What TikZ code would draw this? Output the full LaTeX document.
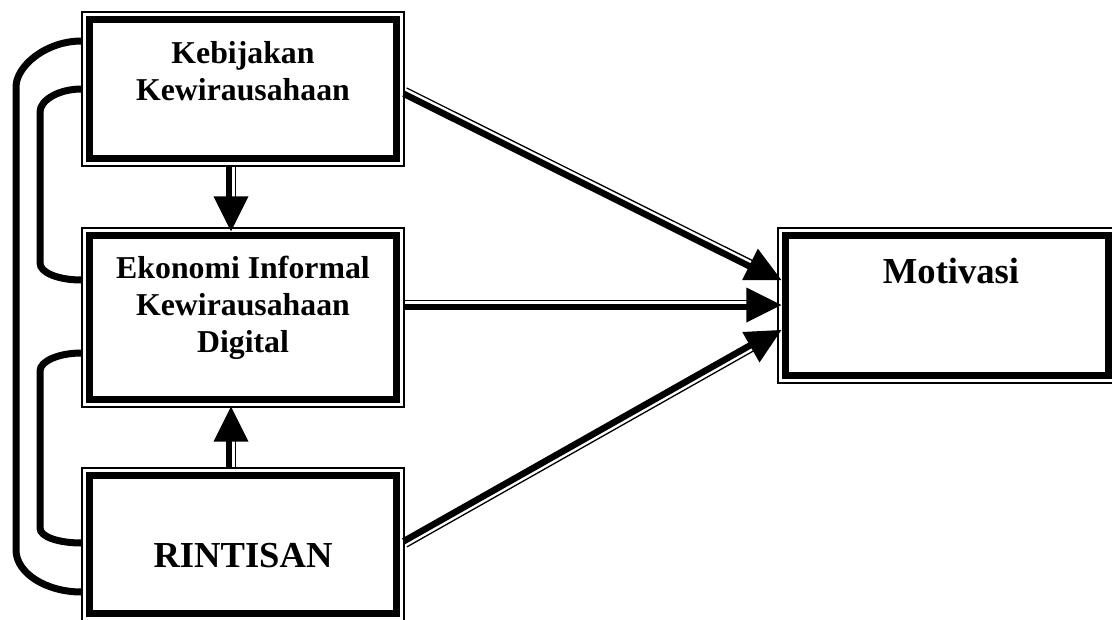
\documentclass[tikz,border=0pt]{standalone}
\usepackage{fontspec}
\setmainfont{Liberation Serif}
\usetikzlibrary{calc}
\tikzset{
  outerbox/.style={draw, line width=1.3pt, inner sep=0pt},
  innerline/.style={line width=6.8pt},
  linkline/.style={line width=7pt},
  boxtext/.style={font=\fontsize{31.8}{37}\selectfont\bfseries, anchor=base, inner sep=0pt},
  bigtext/.style={font=\fontsize{36.6}{42}\selectfont\bfseries, anchor=base, inner sep=0pt},
  shaftthick/.style={line width=6.5pt},
  shaftthin/.style={line width=1.3pt},
  headfill/.style={fill=black}
}
% #1 start, #2 tip, #3 angle of thin side, #4 angle of thick side
\newcommand\dbarrow[4]{%
  \draw[shaftthick] ($(#1)!2pt!#4:(#2)$) -- ($($(#2)!32pt!(#1)$)!2pt!#3:(#1)$);
  \draw[shaftthin] ($(#1)!4.5pt!#3:(#2)$) -- ($($(#2)!32pt!(#1)$)!4.5pt!#4:(#1)$);
  \fill[headfill] (#2) -- ($($(#2)!35pt!(#1)$)!17.5pt!90:(#2)$) -- ($($(#2)!35pt!(#1)$)!17.5pt!-90:(#2)$) -- cycle;
}
\newcommand\innerframe[1]{%
  \draw[innerline] ([shift={(7.8pt,-7.8pt)}]#1.north west) rectangle ([shift={(-7.8pt,7.8pt)}]#1.south east);
}
\begin{document}
\begin{tikzpicture}[x=1pt, y=-1pt]
\useasboundingbox (0,0) rectangle (1112,619);

% boxes
\node[outerbox, minimum width=322pt, minimum height=154pt] (keb) at (243,89) {};
\node[outerbox, minimum width=322pt, minimum height=179pt] (eko) at (243,317.5) {};
\node[outerbox, minimum width=322pt, minimum height=153pt] (rin) at (243,544.5) {};
\node[outerbox, minimum width=338pt, minimum height=155pt] (mot) at (947,305.5) {};
\innerframe{keb}
\innerframe{eko}
\innerframe{rin}
\innerframe{mot}

% texts
\node[boxtext] (t1a) at (243,63) {Kebijakan};
\node[boxtext] (t1b) at (243,100) {Kewirausahaan};
\node[boxtext] (t2a) at (243,278) {Ekonomi Informal};
\node[boxtext] (t2b) at (243,315.5) {Kewirausahaan};
\node[boxtext] (t2c) at (243,352.5) {Digital};
\node[bigtext] (t3) at (243,567) {RINTISAN};
\node[bigtext] (t4) at (951,283) {Motivasi};

% left connectors
\draw[linkline] ($(keb.west)+(0,-48)$) .. controls (46,41) and (16,66) .. (16,87)
  -- (16,550) .. controls (16,573) and (46,592) .. ($(rin.west)+(0,47.5)$);
\draw[linkline] (keb.west) .. controls (59,89) and (40,100) .. (40,112)
  -- (40,263) .. controls (40,273) and (59,280) .. ($(eko.west)+(0,-37.5)$);
\draw[linkline] ($(eko.west)+(0,35.5)$) .. controls (59,353) and (40,361) .. (40,371)
  -- (40,528) .. controls (40,537) and (59,543) .. ($(rin.west)+(0,-1.5)$);

% arrow end points
\coordinate (a1s) at ($(keb.east)+(0,3)$);
\coordinate (a1t) at ($(mot.west)+(4,-25.5)$);
\coordinate (a2s) at ($(eko.east)+(0,-12.5)$);
\coordinate (a2t) at ($(mot.west)+(4,-0.5)$);
\coordinate (a3s) at ($(rin.east)+(0,-1.5)$);
\coordinate (a3t) at ($(mot.west)+(4,24.5)$);
\coordinate (d1s) at ($(keb.south)+(-12,0)$);
\coordinate (d1t) at ($(eko.north)+(-12,4)$);
\coordinate (u1s) at ($(rin.north)+(-12,0)$);
\coordinate (u1t) at ($(eko.south)+(-12,-1)$);

\dbarrow{a1s}{a1t}{90}{-90}
\dbarrow{a2s}{a2t}{90}{-90}
\dbarrow{a3s}{a3t}{-90}{90}
\dbarrow{d1s}{d1t}{90}{-90}
\dbarrow{u1s}{u1t}{-90}{90}
\end{tikzpicture}
\end{document}
